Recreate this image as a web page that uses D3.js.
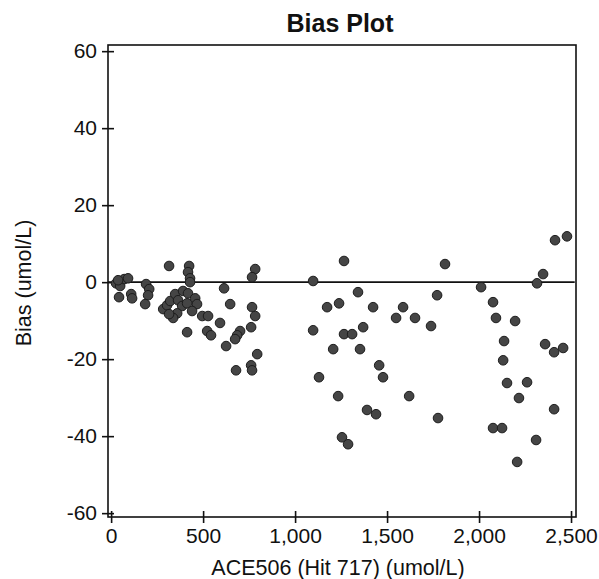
<!DOCTYPE html>
<html>
<head>
<meta charset="utf-8">
<script src="https://cdn.jsdelivr.net/npm/d3@7"></script>
<style>
  html, body { margin: 0; padding: 0; background: #fff; }
  svg { display: block; }
  text { font-family: "Liberation Sans", Arial, Helvetica, sans-serif; fill: #111; }
</style>
</head>
<body>
<svg id="chart" width="599" height="579"></svg>
<script>
// ---- Data ----
const title = "Bias Plot";
const xLabel = "ACE506 (Hit 717) (umol/L)";
const yLabel = "Bias (umol/L)";

const xValues = [
  27, 49, 71, 92, 38, 43, 109, 114,
  190, 207, 201, 185,
  315, 424, 418, 429, 429,
  283, 304, 321, 348, 364, 391, 418, 386, 413, 457, 467, 359, 337, 315, 413, 440,
  495, 527,
  614, 647, 766, 783, 592, 522, 543, 701, 685, 674, 761, 625, 794, 679, 761, 766, 783, 766,
  1098, 1266, 1342, 1174, 1239, 1424, 1587, 1549, 1652, 1739, 1772, 1815,
  1098, 1266, 1310, 1370, 1207, 1353, 1457, 1478, 1130, 1234, 1620, 1391, 1440, 1777, 1255, 1288,
  2011, 2076, 2092, 2196, 2136, 2131, 2359, 2408, 2457, 2152, 2261, 2217, 2408, 2076, 2125, 2310, 2207,
  2315, 2348, 2413, 2478
];
const biasValues = [
  -0.3, -1.0, 0.8, 1.0, 0.5, -3.9, -3.1, -4.2,
  -0.5, -1.8, -3.4, -5.7,
  4.2, 4.2, 2.6, 1.0, 0.0,
  -7.0, -6.0, -4.9, -3.1, -4.7, -2.3, -2.9, -6.2, -5.5, -4.2, -5.7, -8.1, -9.3, -8.3, -13.0, -7.5,
  -8.8, -8.8,
  -1.6, -5.7, -6.5, -8.8, -10.6, -12.7, -13.8, -12.7, -13.8, -14.8, -11.7, -16.6, -18.7, -22.9, -21.6, -22.9, 3.4, 1.3,
  0.3, 5.5, -2.6, -6.5, -5.5, -6.5, -6.5, -9.3, -9.3, -11.4, -3.4, 4.7,
  -12.5, -13.5, -13.5, -11.7, -17.4, -17.4, -21.6, -24.7, -24.7, -29.6, -29.6, -33.2, -34.3, -35.3, -40.3, -42.1,
  -1.3, -5.2, -9.3, -10.1, -15.3, -20.3, -16.1, -18.2, -17.1, -26.2, -26.0, -30.1, -33.0, -37.9, -37.9, -41.0, -46.7,
  -0.3, 2.1, 10.9, 11.9
];
const xTicks = [0, 500, 1000, 1500, 2000, 2500];
const yTicks = [-60, -40, -20, 0, 20, 40, 60];
const zeroLine = [0];

// ---- Layout ----
const svg = d3.select("#chart");
const plotL = 108, plotR = 576, plotT = 45, plotB = 517;

const x = d3.scaleLinear().domain([-17, 2527]).range([plotL, plotR]);
const y = d3.scaleLinear().domain([-61, 61.6]).range([plotB, plotT]);

const fmt = d3.format(",");
const yFmt = d => String(d); // plain hyphen-minus like the reference

// Frame
svg.append("rect")
  .attr("x", plotL).attr("y", plotT)
  .attr("width", plotR - plotL).attr("height", plotB - plotT)
  .attr("fill", "none").attr("stroke", "#111").attr("stroke-width", 1.6);

// Y axis (ticks crossing the left edge)
const yAxis = d3.axisLeft(y).tickValues(yTicks).tickSize(6).tickPadding(6).tickFormat(yFmt);
const gy = svg.append("g").attr("transform", `translate(${plotL},0)`).call(yAxis);
gy.select(".domain").remove();
gy.selectAll(".tick line").attr("x2", 6).attr("x1", -6).attr("stroke", "#111").attr("stroke-width", 1.6);
gy.selectAll(".tick text")
  .attr("x", -11)
  .style("font-size", "21px")
  .style("fill", "#111")
  .attr("font-family", null);

// X axis (ticks crossing the bottom edge)
const xAxis = d3.axisBottom(x).tickValues(xTicks).tickSize(6).tickPadding(6).tickFormat(fmt);
const gx = svg.append("g").attr("transform", `translate(0,${plotB})`).call(xAxis);
gx.select(".domain").remove();
gx.selectAll(".tick line").attr("y1", -6).attr("y2", 6).attr("stroke", "#111").attr("stroke-width", 1.6);
gx.selectAll(".tick text")
  .attr("y", 11)
  .style("font-size", "21px")
  .style("fill", "#111")
  .attr("font-family", null);

// Zero reference line
svg.selectAll(".zero").data(zeroLine).enter().append("line")
  .attr("class", "zero")
  .attr("x1", x(-17)).attr("x2", x(2520))
  .attr("y1", d => y(d)).attr("y2", d => y(d))
  .attr("stroke", "#111").attr("stroke-width", 1.6);

// Points
const pts = xValues.map((v, i) => ({ x: v, y: biasValues[i] }));
svg.append("g").selectAll("circle").data(pts).enter().append("circle")
  .attr("cx", d => x(d.x))
  .attr("cy", d => y(d.y))
  .attr("r", 4.8)
  .attr("fill", "#454545")
  .attr("stroke", "#1c1c1c")
  .attr("stroke-width", 1);

// Title
svg.append("text")
  .attr("x", 340).attr("y", 32)
  .attr("text-anchor", "middle")
  .style("font-size", "25px").style("font-weight", "bold")
  .text(title);

// X label
svg.append("text")
  .attr("x", 338).attr("y", 575)
  .attr("text-anchor", "middle")
  .style("font-size", "21.5px")
  .text(xLabel);

// Y label
svg.append("text")
  .attr("transform", "translate(31,283) rotate(-90)")
  .attr("text-anchor", "middle")
  .style("font-size", "21.5px")
  .text(yLabel);
</script>
</body>
</html>
